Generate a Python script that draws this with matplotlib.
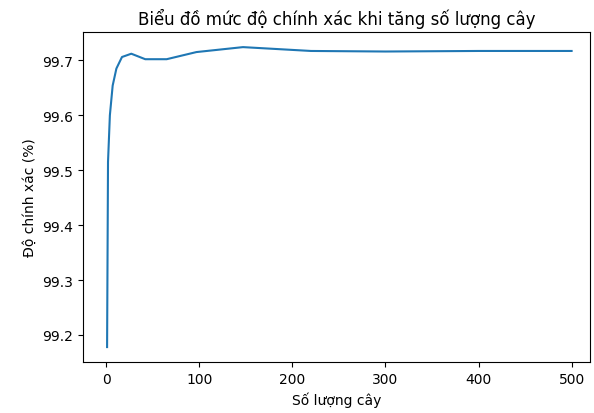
import matplotlib
matplotlib.use('Agg')
import matplotlib.pyplot as plt

# Số lượng cây (n_estimators) và độ chính xác (%)
so_cay = [1, 2, 4, 7, 11, 17, 27, 42, 65, 97, 147, 220, 300, 400, 500]
do_chinh_xac = [99.178, 99.515, 99.600, 99.654, 99.685, 99.706, 99.712,
                99.702, 99.702, 99.715, 99.724, 99.717, 99.716, 99.717, 99.717]

fig = plt.figure(figsize=(5.94, 4.14), dpi=100)
ax = fig.add_axes([0.140, 0.123, 0.853, 0.797])
ax.plot(so_cay, do_chinh_xac)
ax.set_xlim(-24.7, 519.6)
ax.set_title('Biểu đồ mức độ chính xác khi tăng số lượng cây')
ax.set_xlabel('Số lượng cây')
ax.set_ylabel('Độ chính xác (%)')

fig.savefig('out.png', dpi=100)
